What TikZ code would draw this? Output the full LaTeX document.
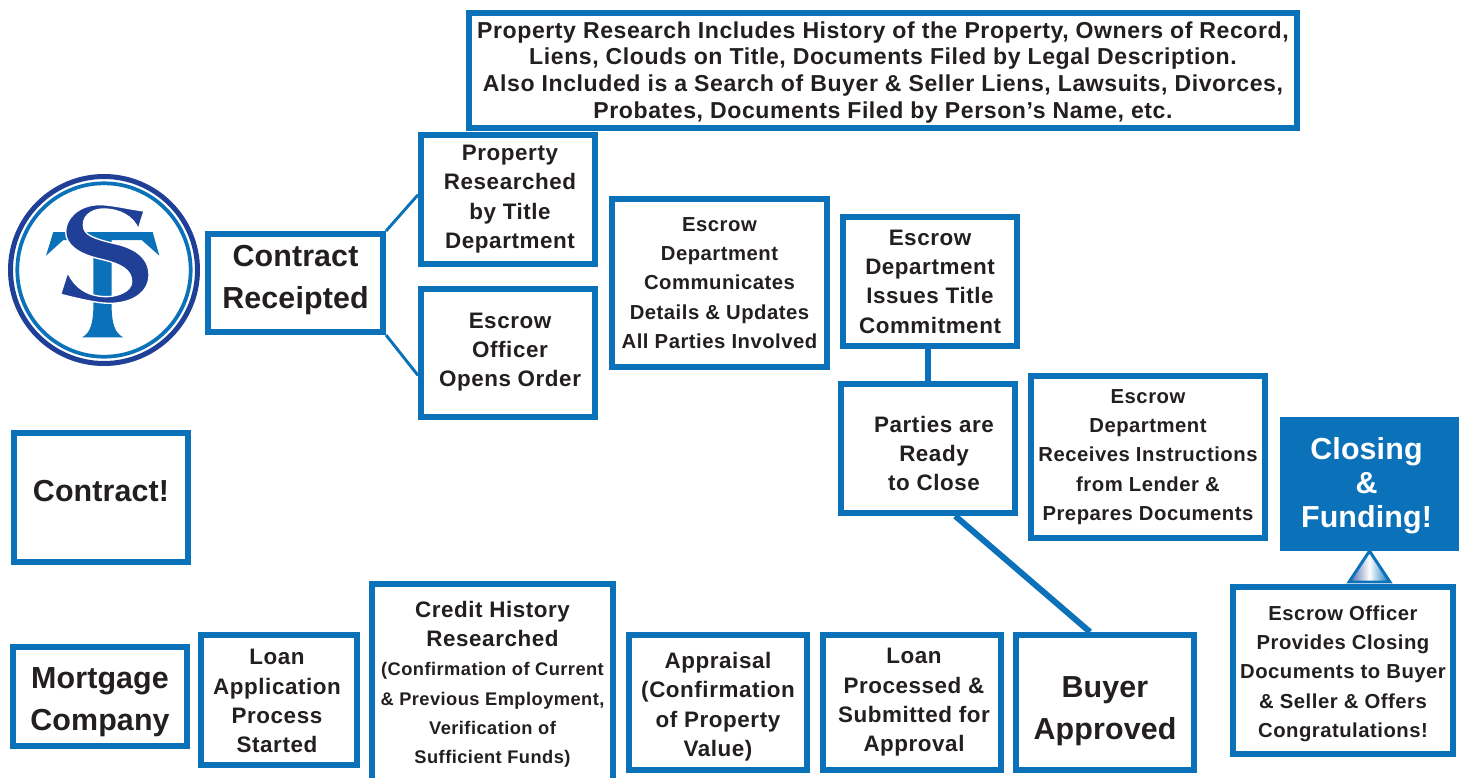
\documentclass[tikz,border=0pt]{standalone}
\usepackage{fontspec}
\setmainfont[LetterSpace=2.5]{Liberation Sans Bold}
\newfontfamily\bigfont[LetterSpace=0.4]{Liberation Sans Bold}
\usetikzlibrary{calc}
\definecolor{stblue}{HTML}{0B72B9}
\definecolor{stnavy}{HTML}{1F4096}
\definecolor{stink}{HTML}{231F20}
\newcommand{\nudge}[3]{\raisebox{\dimexpr-#2pt*3/4\relax}[\height][\depth]{\hspace*{\dimexpr#1pt*3/4\relax}\begin{tabular}{@{}c@{}}#3\end{tabular}\hspace*{\dimexpr-#1pt*3/4\relax}}}
\tikzset{
	sz/.style 2 args={minimum width=#1*.75pt-4.5pt, minimum height=#2*.75pt-4.5pt},
	stepbox/.style={draw=stblue, line width=4.5pt, fill=white, text=stink, inner sep=0pt, align=center},
	toptxt/.style={font=\fontsize{17.3}{20}\selectfont},
	midtxt/.style={font=\fontsize{16.8}{22}\selectfont},
	smalltxt/.style={font=\fontsize{15.2}{22}\selectfont},
	bigtxt/.style={font=\bigfont\fontsize{22.8}{31.5}\selectfont},
	link/.style={draw=stblue, line width=2.2pt},
}
\begin{document}
\begin{tikzpicture}[x=.75pt,y=-.75pt]
	\useasboundingbox (0,0) rectangle (1465,778);
	\clip (0,0) rectangle (1465,778);
	% logo
	\draw[stnavy, line width=3.75pt] (104,270) circle (93.5);
	\draw[stblue, line width=2.8pt] (104,270) circle (86.7);
	\begin{scope}[x=.25pt,y=-.25pt,shift={(0,480)}]
		\fill[stblue] (160,216) -- (458,216) -- (478,287) -- (425,240) -- (335,240) -- (335,440)
			.. controls (335,490) and (345,520) .. (370,532) -- (246,532)
			.. controls (270,520) and (280,490) .. (280,440) -- (280,240) -- (190,240) -- (138,287) -- cycle;
		\fill[stnavy, draw=white, line width=1pt] (432,153)
			.. controls (375,145) and (330,133) .. (295,134)
			.. controls (235,136) and (197,175) .. (197,215)
			.. controls (197,255) and (235,282) .. (300,297)
			.. controls (365,312) and (395,330) .. (395,365)
			.. controls (395,395) and (350,410) .. (320,410)
			.. controls (265,410) and (225,385) .. (203,337)
			-- (182,403)
			.. controls (230,415) and (290,430) .. (330,430)
			.. controls (400,430) and (447,395) .. (447,345)
			.. controls (447,290) and (400,262) .. (340,250)
			.. controls (280,235) and (250,225) .. (250,195)
			.. controls (250,160) and (285,147) .. (310,147)
			.. controls (360,147) and (400,170) .. (415,207) -- cycle;
	\end{scope}
	% boxes
	\node[stepbox, toptxt, sz={834}{121}] (research) at (883,70.5) {\nudge{0}{2.5}{Property Research Includes History of the Property, Owners of Record,\\Liens, Clouds on Title, Documents Filed by Legal Description.\\Also Included is a Search of Buyer \& Seller Liens, Lawsuits, Divorces,\\Probates, Documents Filed by Person’s Name, etc.}};
	\node[stepbox, midtxt, sz={180}{135}] (titledept) at (508,199.5) {\nudge{2}{-1}{Property\\Researched\\by Title\\Department}};
	\node[stepbox, bigtxt, sz={181}{104}] (receipted) at (295.5,283) {\nudge{0}{-4}{Contract\\Receipted}};
	\node[stepbox, midtxt, sz={180}{134}] (officer) at (508,353) {\nudge{2}{-1.5}{Escrow\\Officer\\Opens Order}};
	\node[stepbox, smalltxt, sz={221}{174}] (updates) at (719.5,283) {Escrow\\Department\\Communicates\\Details \& Updates\\All Parties Involved};
	\node[stepbox, midtxt, sz={180}{135}] (commitment) at (930,281.5) {Escrow\\Department\\Issues Title\\Commitment};
	\node[stepbox, midtxt, sz={180}{135}] (ready) at (928,448.5) {\nudge{6}{7}{Parties are\\Ready\\to Close}};
	\node[stepbox, smalltxt, sz={240}{168}] (instructions) at (1148,457) {Escrow\\Department\\Receives Instructions\\from Lender \&\\Prepares Documents};
	\node[stepbox, bigtxt, sz={179}{134}, fill=stblue, text=white, font=\bigfont\fontsize{22.8}{25.5}\selectfont] (closing) at (1369.5,484) {\nudge{-3}{3}{Closing\\\&\\Funding!}};
	\node[stepbox, smalltxt, sz={226}{173}] (congrats) at (1343,670.5) {\nudge{0}{2.5}{Escrow Officer\\Provides Closing\\Documents to Buyer\\\& Seller \& Offers\\Congratulations!}};
	\node[stepbox, bigtxt, sz={180}{135}] (contract) at (101,497.5) {\nudge{0}{-4.5}{Contract!}};
	\node[stepbox, bigtxt, sz={180}{105}] (mortgage) at (100,696.5) {\nudge{0}{4.5}{Mortgage\\Company}};
	\node[stepbox, midtxt, sz={162}{136}] (application) at (279,700) {\nudge{-2}{3}{Loan\\Application\\Process\\Started}};
	\node[stepbox, midtxt, sz={247}{209}] (credit) at (492.5,685.5) {\nudge{0}{-1}{Credit History\\Researched\\{\fontsize{13.7}{22}\selectfont (Confirmation of Current}\\{\fontsize{13.7}{22}\selectfont \& Previous Employment,}\\{\fontsize{13.7}{22}\selectfont Verification of}\\{\fontsize{13.7}{22}\selectfont Sufficient Funds)}}};
	\node[stepbox, midtxt, sz={184}{141}] (appraisal) at (718,702.5) {\nudge{0}{4}{Appraisal\\(Confirmation\\of Property\\Value)}};
	\node[stepbox, midtxt, sz={184}{141}] (processed) at (912,702.5) {\nudge{2}{-0.5}{Loan\\Processed \&\\Submitted for\\Approval}};
	\node[stepbox, bigtxt, sz={184}{141}] (approved) at (1105,702.5) {\nudge{0}{7.5}{Buyer\\Approved}};
	% connectors
	\draw[link] (receipted.north east) -- (titledept.177);
	\draw[link] (receipted.south east) -- (officer.194);
	\draw[link, line width=4.5pt] (ready.north |- commitment.south) -- (ready.north);
	\draw[link, line width=4.5pt] (ready.-68) -- (approved.102);
	\coordinate (tipl) at (1349,582);
	\coordinate (tipr) at (1390,582);
	\draw[stblue, line width=2.2pt, left color=stnavy!80, right color=stblue, middle color=white] (closing.south) -- (tipr) -- (tipl) -- cycle;
\end{tikzpicture}
\end{document}
